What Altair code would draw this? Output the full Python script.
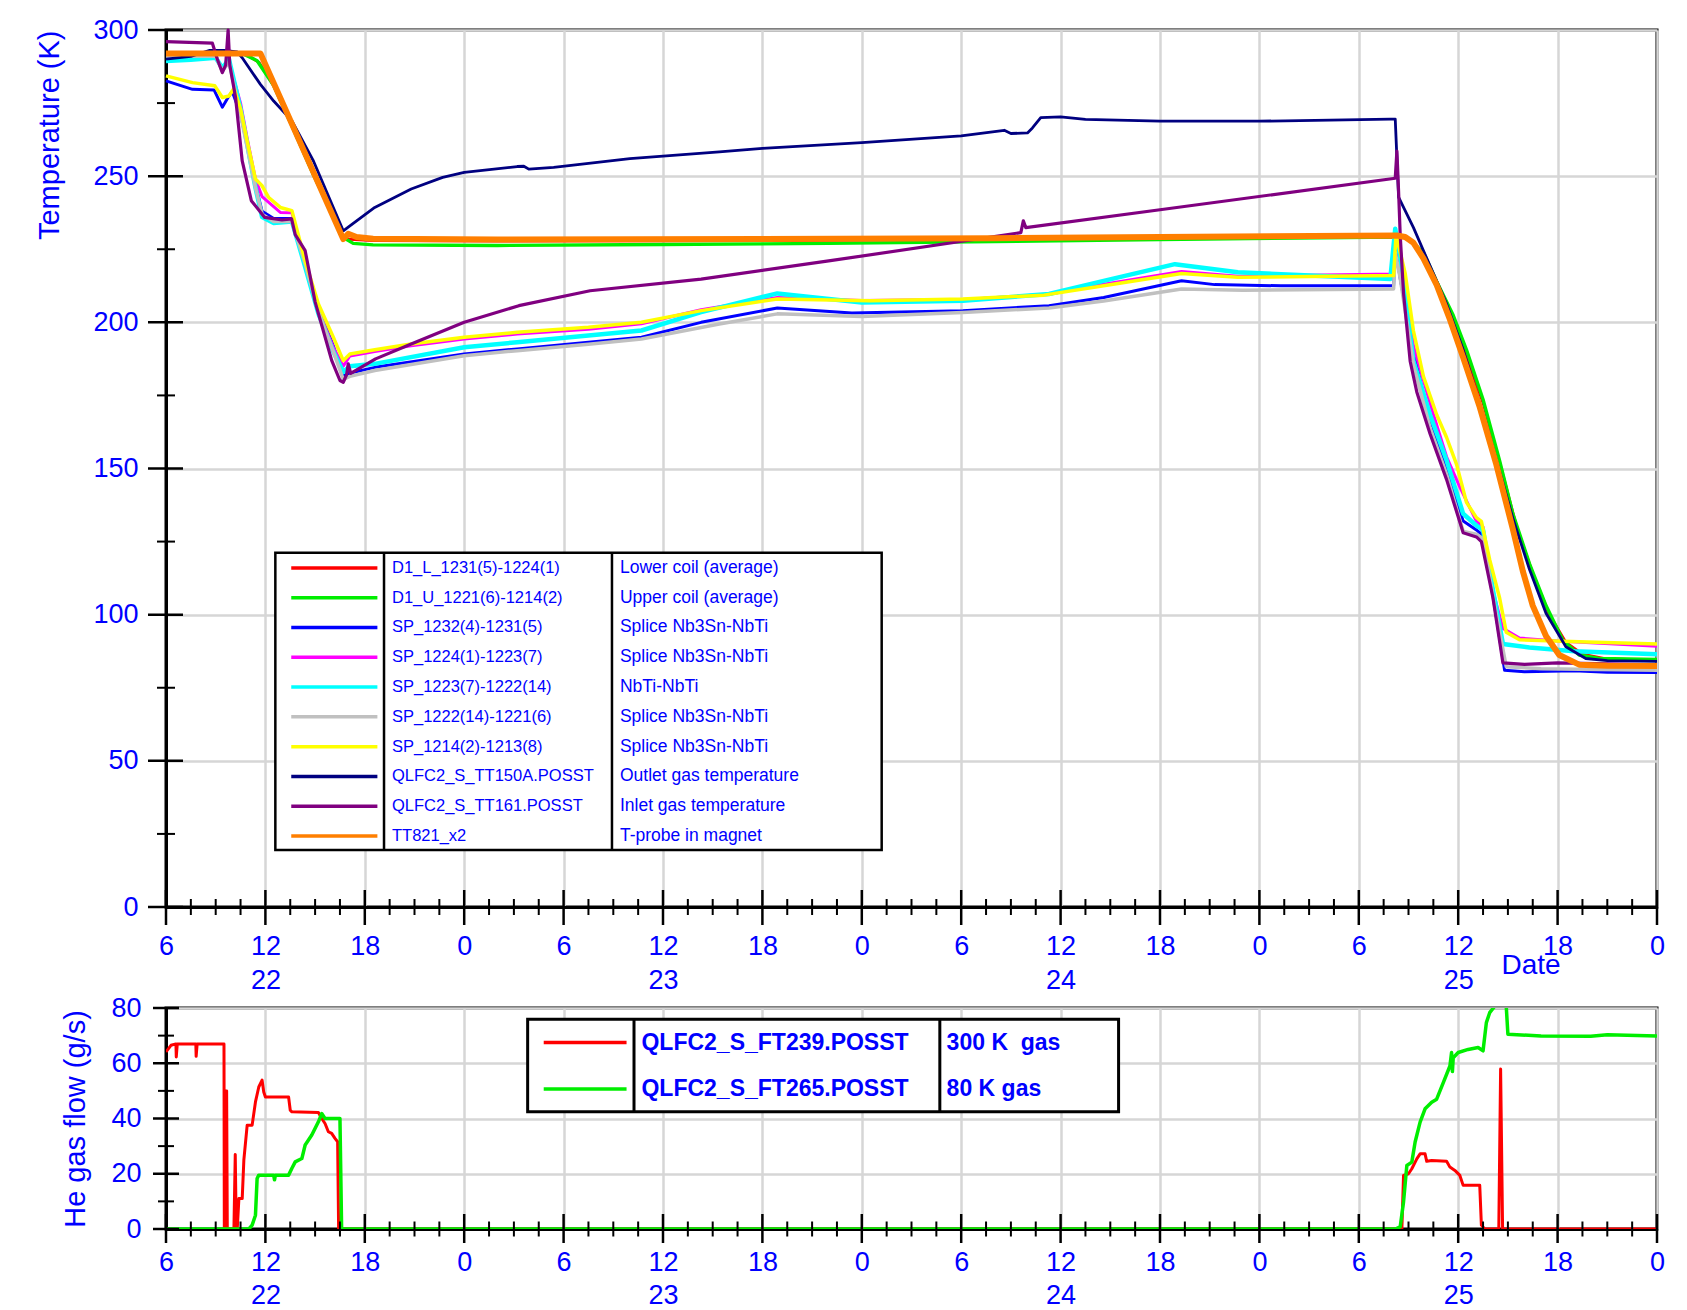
import json
import altair as alt
import pandas as pd

# ===================== DATA =====================
# time axis: hours since 22nd 06:00 (0 .. 90 = 26th 00:00)

# --- top panel: temperatures (K) ---
D1L_T = [0, 4.8, 5.6, 6.5, 7.5, 8.9, 10.7, 11.1, 12.5, 20, 30, 40, 50, 60, 74.2, 74.8, 75.5, 76.5,
         77.5, 78.5, 79.5, 80.5, 81.5, 82.5, 83.5, 84.5, 85.5, 87, 90]
D1L_K = [291.8, 291.8, 289, 281, 268.5, 250.5, 228.8, 228.4, 228, 227.8, 227.9, 228.1, 228.4, 228.8,
         229.2, 228.9, 226, 216, 203, 188.5, 172.5, 152, 130.5, 114, 100, 90.5, 86.5, 84.8, 84.4]

D1U_T = [0, 4.6, 5.5, 6.5, 7.5, 8.9, 10.7, 11.3, 12.5, 20, 30, 40, 50, 60, 74.2, 74.6, 75.0, 75.9,
         76.7, 77.7, 78.5, 79.5, 80.5, 81.3, 82.3, 83.3, 84.3, 85.3, 86.5, 90]
D1U_K = [292, 292, 289.5, 281, 268.5, 250.5, 229, 227, 226.5, 226.3, 226.6, 227, 227.6, 228.3, 229.2,
         229.4, 228.6, 223.9, 214, 202.4, 190.6, 173.6, 152.7, 134.5, 117.5, 103.1, 91.4, 86.2, 85, 84.7]

SP1232_T = [0, 1.6, 2.9, 3.4, 3.7, 4.0, 4.5, 4.9, 5.4, 5.8, 6.5, 7.6, 8.4, 9.2, 10.1, 10.7, 11.0,
            12.6, 18, 21.2, 25.5, 28.7, 32.3, 36.9, 41.4, 48.1, 53.3, 56.6, 61.3, 63.3, 67.3, 74.1,
            74.2, 74.5, 75.3, 76.3, 77.3, 78.3, 79.1, 79.5, 80.2, 80.8, 82, 85, 87, 90]
SP1232_K = [282.6, 279.7, 279.5, 273.6, 276.5, 279, 271, 261, 247, 238, 235.5, 235.5, 221, 205, 192,
            181.5, 182.5, 184.6, 189.2, 190.9, 193.2, 194.9, 200, 204.9, 203.2, 204, 205.7, 208.5,
            214.2, 212.9, 212.5, 212.5, 226, 215, 190, 166, 150, 132, 129, 127, 103, 81, 80.5, 80.8,
            80.3, 80.2]

SP1224_T = [0, 3.0, 3.4, 3.8, 4.5, 4.9, 5.4, 5.8, 6.9, 7.6, 8.4, 9.2, 10.1, 10.7, 11.1, 12.6, 14.8,
            18, 21.2, 25.5, 28.7, 32.3, 36.9, 42, 48.1, 53.3, 56.6, 61.3, 64.7, 74.1, 74.2, 74.5,
            75.3, 76.3, 77.3, 78.1, 79.1, 79.5, 79.9, 80.7, 81.7, 84, 90]
SP1224_K = [291, 291, 286, 289, 275, 263, 249, 243, 237.6, 237.5, 219.5, 204, 191.5, 185, 188.5, 190,
            192, 194.3, 196, 197.6, 199.5, 204.3, 208.5, 207.5, 207.8, 209.6, 213, 217.4, 215.8,
            216.5, 229, 225, 192, 172.3, 154, 143.6, 131.9, 130, 112.3, 95.3, 92, 91, 89.2]

SP1223_T = [0, 1.5, 3.0, 3.4, 3.8, 4.5, 4.9, 5.4, 5.8, 6.5, 7.6, 8.4, 9.2, 10.1, 10.7, 11.1, 12.6,
            18, 21.2, 25.5, 28.7, 32.3, 36.9, 42, 48.1, 53.3, 56.6, 60.9, 64.7, 73.9, 74.2, 74.5,
            75.3, 76.3, 77.3, 78.3, 79.1, 79.5, 80.1, 80.7, 82.3, 85, 90]
SP1223_K = [289.4, 289.8, 290.5, 287, 290, 273, 261, 246, 236, 234, 234.5, 219, 203, 190, 183, 185,
            185.8, 191.5, 193.2, 195.5, 197.2, 203.5, 209.9, 206.8, 207.4, 209.7, 214.2, 219.9,
            217.1, 214.8, 232, 222, 186.7, 168.4, 152.7, 134.5, 130.5, 129, 108.4, 90, 88.8, 87.5, 86.5]

SP1222_T = [0, 3.0, 3.4, 3.8, 4.5, 4.9, 5.4, 5.8, 6.5, 7.6, 8.4, 9.2, 10.1, 10.7, 11.1, 12.6, 18,
            21.2, 25.5, 28.7, 33.4, 36.9, 42, 48.1, 53.3, 56.6, 61.3, 65, 74.1, 74.2, 74.5, 75.3,
            76.3, 77.3, 78.3, 79.1, 79.5, 80.2, 80.9, 83, 90]
SP1222_K = [291, 291, 286, 289, 271, 260, 246, 237, 234.5, 234.5, 220, 203.5, 190, 180.5, 181.5,
            183.5, 188.6, 190.3, 192.5, 194.3, 199.4, 202.9, 202, 203.4, 204.9, 207.3, 211.4, 211,
            211.4, 224, 215, 185.4, 164, 148, 128.5, 127.5, 126, 103, 82.2, 81.5, 81]

SP1214_T = [0, 1.6, 2.95, 3.4, 3.8, 4.1, 4.5, 4.9, 5.4, 5.8, 6.2, 6.9, 7.6, 8.4, 9.2, 10.1, 10.7,
            11.1, 12.6, 14.8, 18, 21.2, 25.5, 28.7, 32.3, 36.9, 42.5, 48.1, 53, 56.6, 61.3, 64.7,
            74.1, 74.25, 74.8, 75.3, 75.9, 76.7, 77.3, 77.9, 78.5, 79.1, 79.4, 79.9, 80.5, 80.9,
            81.7, 85.3, 90]
SP1214_K = [284.3, 282, 280.9, 276.9, 277.4, 280, 273, 262, 249, 246.7, 242.7, 239.3, 238.2, 221.1,
            206.3, 194.9, 186.9, 189.2, 190.6, 192.6, 194.9, 196.6, 198.3, 200, 204, 208, 207.4,
            208, 209.3, 212.5, 216.7, 215.4, 216, 230, 216.7, 197, 181.5, 168.4, 160.6, 151.4,
            138.4, 133.2, 131.9, 118.8, 105.7, 94, 91.4, 90.7, 90]

TT150_T = [0, 1.5, 2.6, 3.5, 4.3, 4.6, 5.7, 6.5, 7.6, 8.9, 10.7, 11.1, 12.6, 14.8, 16.7, 18, 21.2,
           21.6, 21.9, 23.4, 28, 33.4, 36, 42, 48, 50.6, 51.0, 52.0, 52.3, 52.8, 54, 55.5, 60, 66,
           73.9, 74.2, 74.4, 75.3, 76.3, 77.3, 78.3, 79.3, 80.3, 81.3, 82.3, 83.3, 84.5, 85.7, 87, 90]
TT150_K = [290, 291, 293, 293, 292.5, 290.5, 281.4, 275.7, 268.9, 255.2, 231.3, 233, 239.3, 245.6,
           249.6, 251.3, 253.3, 253.4, 252.4, 253, 256, 258.3, 259.5, 261.5, 263.8, 265.7, 264.6,
           264.8, 266.5, 270, 270.3, 269.4, 268.8, 268.8, 269.5, 269.5, 242.8, 232.4, 219.3, 206.3,
           190.6, 172.3, 153, 133, 115.5, 100.5, 89, 85, 84.3, 84]

TT161_T = [0, 2.8, 3.1, 3.4, 3.6, 3.75, 3.85, 4.2, 4.6, 5.15, 5.96, 7.0, 7.58, 7.8, 8.4, 9.0, 10.0,
           10.5, 10.7, 10.9, 11.0, 11.15, 12.65, 14.8, 18, 21.3, 25.6, 32.3, 40, 51.6, 51.75, 51.9,
           60, 74.2, 74.3, 74.4, 74.5, 74.7, 75.1, 75.5, 76.3, 77.3, 78.3, 79.1, 79.4, 80.1, 80.7,
           82, 84, 90]
TT161_K = [296, 295.5, 290, 285.4, 288, 300, 288, 276.9, 255.2, 241.6, 235.9, 235, 235.4, 230, 224.5,
           207, 187, 180.1, 179.5, 182, 185.8, 182.5, 187.5, 192.6, 200, 205.7, 210.8, 214.8, 221,
           230.7, 234.7, 232.4, 238.5, 249.3, 258.6, 245, 229.8, 210, 186.7, 176.2, 161.9, 146.2,
           128, 126.6, 125, 105.7, 83.5, 83, 83.5, 82.8]

TT821_T = [0, 5.7, 10.7, 11.0, 11.5, 12.5, 20, 36, 50, 60, 74.3, 74.8, 75.3, 75.9, 76.7, 77.5, 78.3,
           79.3, 80.3, 81.3, 81.9, 82.5, 83.3, 84.1, 85.3, 87, 90]
TT821_K = [292, 292, 228.5, 230.3, 229.2, 228.6, 228.3, 228.5, 228.8, 229.2, 229.7, 229.2, 227.2,
           221.9, 212.8, 201, 188, 171, 151.4, 129.2, 114.9, 103.1, 92.7, 86.2, 82.9, 82.5, 82.4]

TEMP_NAMES = ["D1_L_1231(5)-1224(1)", "D1_U_1221(6)-1214(2)", "SP_1232(4)-1231(5)",
              "SP_1224(1)-1223(7)", "SP_1223(7)-1222(14)", "SP_1222(14)-1221(6)",
              "SP_1214(2)-1213(8)", "QLFC2_S_TT150A.POSST", "QLFC2_S_TT161.POSST", "TT821_x2"]
TEMP_DESCS = ["Lower coil (average)", "Upper coil (average)", "Splice Nb3Sn-NbTi", "Splice Nb3Sn-NbTi",
              "NbTi-NbTi", "Splice Nb3Sn-NbTi", "Splice Nb3Sn-NbTi", "Outlet gas temperature",
              "Inlet gas temperature", "T-probe in magnet"]
TEMP_SERIES = [(D1L_T, D1L_K), (D1U_T, D1U_K), (SP1232_T, SP1232_K), (SP1224_T, SP1224_K),
               (SP1223_T, SP1223_K), (SP1222_T, SP1222_K), (SP1214_T, SP1214_K),
               (TT150_T, TT150_K), (TT161_T, TT161_K), (TT821_T, TT821_K)]

# --- bottom panel: He gas flow (g/s) ---
FT239_T = [0, 0.3, 0.6, 0.62, 0.68, 1.8, 1.82, 1.88, 3.5, 3.52, 3.6, 3.62, 3.66, 3.7, 4.1, 4.18,
           4.24, 4.3, 4.4, 4.6, 4.7, 4.9, 5.2, 5.4, 5.6, 5.8, 5.9, 6.0, 7.4, 7.5, 7.6, 9.2, 9.4,
           9.6, 9.8, 10.0, 10.2, 10.36, 10.42, 74.6, 74.7, 75.0, 75.2, 75.5, 75.7, 76.0, 76.1, 76.4,
           77.3, 77.5, 77.8, 78.1, 78.3, 79.3, 79.4, 79.6, 80.45, 80.56, 80.68, 90]
FT239_G = [64.1, 66.5, 67, 62.3, 67, 67, 62.5, 67, 67, 0, 0, 50, 50, 0, 0, 27, 0, 0, 11, 11, 25,
           37.6, 37.6, 46, 51.4, 53.9, 49.6, 47.8, 47.8, 43, 42.4, 42.2, 40, 38.2, 35.2, 34.6, 32.8,
           31.6, 0, 0, 19.4, 20, 21.8, 25.4, 27.2, 27.2, 24.5, 24.8, 24.5, 22.4, 21.2, 19.4, 15.8,
           15.8, 1.4, 0, 0, 57.9, 0, 0]

FT265_T = [0, 5.0, 5.2, 5.4, 5.5, 5.6, 6.5, 6.55, 6.6, 7.4, 7.6, 7.8, 8.2, 8.4, 8.8, 9.2, 9.4, 9.6,
           10.5, 10.6, 74.2, 74.5, 74.7, 74.9, 75.2, 75.4, 75.7, 76.0, 76.4, 76.7, 77.1, 77.5,
           77.6, 77.65, 77.7, 78.0, 78.6, 79.2, 79.5, 79.7, 79.9, 80.2, 80.9, 81.0, 83, 86, 87, 90]
FT265_G = [0, 0, 1.4, 5, 18.3, 19.5, 19.5, 17.8, 19.5, 19.5, 22, 24.3, 25.5, 30.4, 34, 38.8, 41.8,
           40, 40, 0, 0, 0.8, 9.8, 23, 24.2, 31.5, 38.7, 43.5, 45.9, 47, 53, 59, 63.9, 57, 62, 63.9,
           65, 65.7, 64.5, 74.7, 78.3, 80.6, 80.6, 70.5, 69.9, 69.8, 70.3, 69.9]

FLOW_NAMES = ["QLFC2_S_FT239.POSST", "QLFC2_S_FT265.POSST"]
FLOW_DESCS = ["300 K\u00a0 gas", "80 K gas"]
FLOW_SERIES = [(FT239_T, FT239_G), (FT265_T, FT265_G)]

# --- axis ticks and labels ---
HOUR_MAJOR = [0, 6, 12, 18, 24, 30, 36, 42, 48, 54, 60, 66, 72, 78, 84, 90]
HOUR_MINOR = [h + m for h in HOUR_MAJOR[:-1] for m in (1.5, 3.0, 4.5)]
HOUR_LABELS = ["6", "12", "18", "0", "6", "12", "18", "0", "6", "12", "18", "0", "6", "12", "18", "0"]
DAY_LABELS = {6: "22", 30: "23", 54: "24", 78: "25"}
TEMP_MAJOR = [0, 50, 100, 150, 200, 250, 300]
TEMP_MINOR = [25, 75, 125, 175, 225, 275]
FLOW_MAJOR = [0, 20, 40, 60, 80]
FLOW_MINOR = [10, 30, 50, 70]

# ===================== STYLE / LAYOUT =====================
TEMP_COLORS = ["#ff0000", "#00ee00", "#0000ff", "#ff00ff", "#00ffff", "#c0c0c0", "#ffff00",
               "#000080", "#800080", "#ff7f00"]
TEMP_WIDTHS = [3, 3.4, 3, 3, 4.5, 3.5, 3.5, 2.8, 3.2, 6]
FLOW_COLORS = ["#ff0000", "#00ee00"]
FLOW_WIDTHS = [3, 3.5]

W = 1491
H1 = 877
H2 = 221
TXT = "#0000ff"
FONT = "Liberation Sans"

xscale = alt.Scale(domain=[0, 90], nice=False, zero=False)
tscale = alt.Scale(domain=[0, 300], nice=False)
fscale = alt.Scale(domain=[0, 80], nice=False)

lab_list = []
for h, lab in zip(HOUR_MAJOR, HOUR_LABELS):
    lab_list.append([lab, DAY_LABELS[h]] if h in DAY_LABELS else lab)
LABEL_EXPR = json.dumps(lab_list) + "[round(datum.value / 6)]"


def x_axis(pad, line_h):
    return alt.Axis(values=HOUR_MAJOR, grid=True, ticks=False, labelExpr=LABEL_EXPR,
                    labelPadding=pad, labelLineHeight=line_h, labelFlush=False, labelOverlap=False,
                    labelBaseline="top", title=None)


class Panel:
    def __init__(self, yscale, xax, yax):
        self.yscale = yscale
        self.xax = xax
        self.yax = yax

    def X(self, field):
        return alt.X(field, scale=xscale, axis=self.xax)

    def Y(self, field):
        return alt.Y(field, scale=self.yscale, axis=self.yax)


def series_layers(p, series, colors, widths, clip=False):
    layers = []
    for i, (ts, vs) in enumerate(series):
        df = pd.DataFrame({"t": ts, "v": vs})
        layers.append(
            alt.Chart(df).mark_line(color=colors[i], strokeWidth=widths[i], clip=clip,
                                    strokeJoin="round").encode(x=p.X("t:Q"), y=p.Y("v:Q"))
        )
    return layers


def x_ticks(p, values, up, down, H, width):
    df = pd.DataFrame({"t": values})
    return alt.Chart(df).mark_rule(color="black", strokeWidth=width).encode(
        x=p.X("t:Q"), y=alt.value(H - up), y2=alt.value(H + down))


def y_ticks(p, values, left, right, width):
    df = pd.DataFrame({"v": values})
    return alt.Chart(df).mark_rule(color="black", strokeWidth=width).encode(
        y=p.Y("v:Q"), x=alt.value(-left), x2=alt.value(right))


def legend_layers(p, names, descs, colors, box, div1, div2, sample, tx_name, tx_desc,
                  row0, step, fs_name, fs_desc, weight, sw, bw):
    x0, x1, y0, y1 = box
    box_df = pd.DataFrame({"t": [x0], "t2": [x1], "v": [y0], "v2": [y1]})
    rect = alt.Chart(box_df).mark_rect(fill="white", stroke="black", strokeWidth=bw).encode(
        x=p.X("t:Q"), x2="t2:Q", y=p.Y("v:Q"), y2="v2:Q")
    div_df = pd.DataFrame({"t": [div1, div2], "v": [y0, y0], "v2": [y1, y1]})
    divs = alt.Chart(div_df).mark_rule(color="black", strokeWidth=bw).encode(
        x=p.X("t:Q"), y=p.Y("v:Q"), y2="v2:Q")
    n = len(names)
    rows = pd.DataFrame({
        "name": names, "desc": descs,
        "v": [row0 - i * step for i in range(n)],
        "ta": [sample[0]] * n, "tb": [sample[1]] * n,
        "tn": [tx_name] * n, "td": [tx_desc] * n,
    })
    samples = alt.Chart(rows).mark_rule(strokeWidth=sw).encode(
        x=p.X("ta:Q"), x2="tb:Q", y=p.Y("v:Q"),
        color=alt.Color("name:N", scale=alt.Scale(domain=names, range=colors), legend=None))
    tn = alt.Chart(rows).mark_text(align="left", baseline="middle", font=FONT, fontSize=fs_name,
                                   fontWeight=weight, color=TXT).encode(
        x=p.X("tn:Q"), y=p.Y("v:Q"), text="name:N")
    td = alt.Chart(rows).mark_text(align="left", baseline="middle", font=FONT, fontSize=fs_desc,
                                   fontWeight=weight, color=TXT).encode(
        x=p.X("td:Q"), y=p.Y("v:Q"), text="desc:N")
    return [rect, divs, samples, tn, td]


# ---------------- top panel ----------------
top_p = Panel(
    tscale, x_axis(26, 34),
    alt.Axis(values=TEMP_MAJOR, grid=True, ticks=False, labelPadding=28, labelFlush=False,
             title="Temperature (K)", titleAnchor="end", titlePadding=28))
top_layers = series_layers(top_p, TEMP_SERIES, TEMP_COLORS, TEMP_WIDTHS)
top_layers += legend_layers(top_p, TEMP_NAMES, TEMP_DESCS, TEMP_COLORS,
                            box=(6.6, 43.2, 121.2, 19.5), div1=13.16, div2=26.92,
                            sample=(7.56, 12.76), tx_name=13.64, tx_desc=27.4,
                            row0=116.0, step=10.19, fs_name=16.5, fs_desc=17.5,
                            weight="normal", sw=3.5, bw=2.5)
top_layers += [
    x_ticks(top_p, HOUR_MAJOR, 17, 18, H1, 2.5),
    x_ticks(top_p, HOUR_MINOR, 8, 8, H1, 2),
    y_ticks(top_p, TEMP_MAJOR, 18, 17, 2.5),
    y_ticks(top_p, TEMP_MINOR, 9, 9, 2),
    alt.Chart(pd.DataFrame({"t": [82.4], "label": ["Date"]})).mark_text(
        font=FONT, fontSize=28, color=TXT, align="center", baseline="middle").encode(
        x=top_p.X("t:Q"), y=alt.value(H1 + 59), text="label:N"),
]
top = alt.layer(*top_layers).properties(width=W, height=H1)

# ---------------- bottom panel ----------------
bot_p = Panel(
    fscale, x_axis(20, 33),
    alt.Axis(values=FLOW_MAJOR, grid=True, ticks=False, labelPadding=25, labelFlush=False,
             title="He gas flow (g/s)", titlePadding=20))
bot_layers = series_layers(bot_p, FLOW_SERIES, FLOW_COLORS, FLOW_WIDTHS, clip=True)
bot_layers += legend_layers(bot_p, FLOW_NAMES, FLOW_DESCS, FLOW_COLORS,
                            box=(21.83, 57.5, 75.9, 42.45), div1=28.25, div2=46.71,
                            sample=(22.8, 27.8), tx_name=28.7, tx_desc=47.12,
                            row0=67.5, step=16.85, fs_name=23, fs_desc=23,
                            weight="bold", sw=3.5, bw=3)
bot_layers += [
    x_ticks(bot_p, HOUR_MAJOR, 15, 14, H2, 2.5),
    x_ticks(bot_p, HOUR_MINOR, 7.5, 7.5, H2, 2),
    y_ticks(bot_p, FLOW_MAJOR, 13, 13, 2.5),
    y_ticks(bot_p, FLOW_MINOR, 8, 8, 2),
]
bottom = alt.layer(*bot_layers).properties(width=W, height=H2)

chart = alt.vconcat(top, bottom, spacing=-3).properties(
    padding={"left": 26, "top": 6, "right": 5, "bottom": 0}
).configure_view(stroke="black", strokeWidth=3).configure_axis(
    domainColor="black", domainWidth=3, gridColor="#d6d6d6", gridWidth=2.5,
    labelColor=TXT, labelFont=FONT, labelFontSize=27,
    titleColor=TXT, titleFont=FONT, titleFontSize=29, titleFontWeight="normal",
)

chart.save("out.html", embed_options={"renderer": "svg", "actions": False})
